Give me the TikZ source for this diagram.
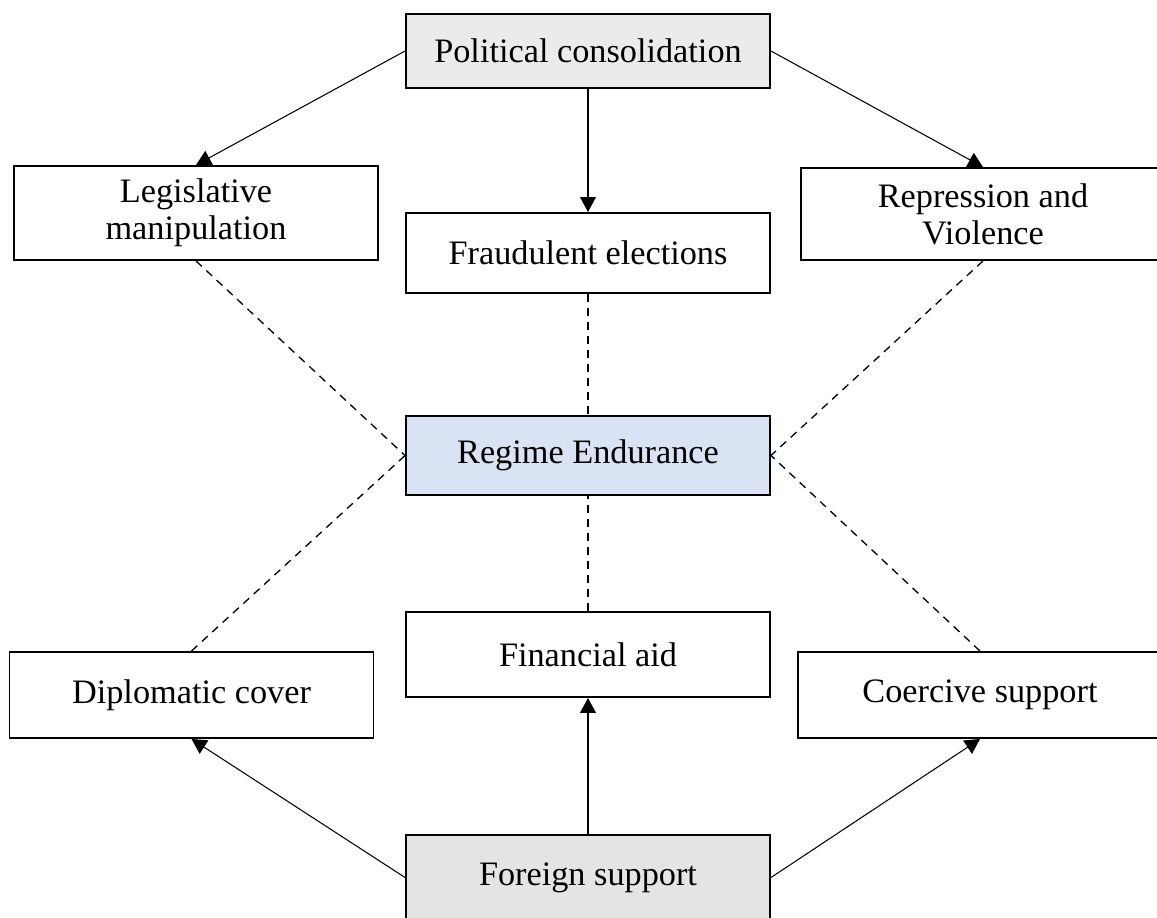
\documentclass[tikz,border=0pt]{standalone}
\usepackage{fontspec}
\setmainfont{Liberation Serif}
\usepackage{tikz}
\usetikzlibrary{arrows.meta}

\definecolor{srcgray}{HTML}{EBEBEB}
\definecolor{srcgraydark}{HTML}{E4E4E4}
\definecolor{outblue}{HTML}{DAE3F3}

\begin{document}
\begin{tikzpicture}[
    factor/.style={draw, line width=1.1pt, fill=white, align=center,
      minimum width=7.28cm, inner sep=2pt, font=\fontsize{19.5}{21}\selectfont},
    link/.style={-{Triangle[width=9pt,length=8.5pt]}, line width=0.6pt},
    tie/.style={line width=0.75pt, dash pattern=on 4.5pt off 3.5pt}
  ]
    \useasboundingbox (0,0) rectangle (23.14,-18.36);

    % Sources
    \node[factor, fill=srcgray, minimum height=1.48cm] (pol) at (11.76,-1.02) {Political consolidation};
    \node[factor, fill=srcgraydark, minimum height=1.7cm] (for) at (11.76,-17.55) {Foreign support};

    % Domestic channels
    \node[factor, minimum height=1.88cm] (leg) at (3.92,-4.26) {Legislative\\manipulation};
    \node[factor, minimum height=1.6cm] (fraud) at (11.76,-5.06) {Fraudulent elections};
    \node[factor, minimum height=1.84cm] (rep) at (19.66,-4.28) {Repression and\\Violence};

    % Outcome
    \node[factor, fill=outblue, minimum height=1.58cm] (reg) at (11.76,-9.11) {Regime Endurance};

    % Foreign channels
    \node[factor, minimum height=1.72cm] (dip) at (3.83,-13.9) {Diplomatic cover};
    \node[factor, minimum height=1.7cm] (fin) at (11.76,-13.09) {Financial aid};
    \node[factor, minimum height=1.72cm] (coe) at (19.6,-13.9) {Coercive support};

    % Arrows
    \draw[link] (pol.west) -- (leg.north);
    \draw[link] (pol.south) -- (fraud.north);
    \draw[link] (pol.east) -- (rep.north);
    \draw[link] (for.west) -- (dip.south);
    \draw[link] (for.north) -- (fin.south);
    \draw[link] (for.east) -- (coe.south);

    % Dashed ties to outcome
    \draw[tie] (leg.south) -- (reg.west);
    \draw[tie] (fraud.south) -- (reg.north);
    \draw[tie] (rep.south) -- (reg.east);
    \draw[tie] (dip.north) -- (reg.west);
    \draw[tie] (fin.north) -- (reg.south);
    \draw[tie] (coe.north) -- (reg.east);
\end{tikzpicture}
\end{document}
